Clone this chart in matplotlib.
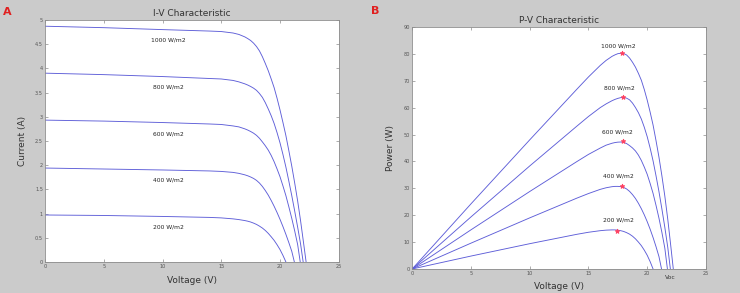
import matplotlib
matplotlib.use("Agg")
import matplotlib.pyplot as plt

# ---------------- data ----------------
irradiance_labels = ["1000 W/m2", "800 W/m2", "600 W/m2", "400 W/m2", "200 W/m2"]

v_1000 = [0, 5, 10, 14, 15, 16, 16.5, 17, 17.25, 17.5, 17.75, 18, 18.25, 18.5, 18.75, 19, 19.25,
          19.5, 19.75, 20, 20.25, 20.5, 20.75, 21, 21.25, 21.5, 21.75, 22, 22.22]
i_1000 = [4.87, 4.84, 4.80, 4.77, 4.76, 4.73, 4.70, 4.65, 4.615, 4.575, 4.52, 4.45, 4.36, 4.24, 4.10,
          3.95, 3.78, 3.60, 3.38, 3.14, 2.88, 2.61, 2.30, 1.98, 1.63, 1.26, 0.85, 0.40, 0]

v_800 = [0, 5, 10, 14, 15, 16, 16.5, 17, 17.25, 17.5, 17.75, 18, 18.25, 18.5, 18.75, 19, 19.25,
         19.5, 19.75, 20, 20.25, 20.5, 20.75, 21, 21.25, 21.5, 21.75, 21.97]
i_800 = [3.90, 3.87, 3.83, 3.79, 3.78, 3.75, 3.72, 3.68, 3.655, 3.625, 3.59, 3.545, 3.48, 3.40, 3.29,
         3.16, 3.02, 2.86, 2.67, 2.46, 2.22, 1.96, 1.67, 1.37, 1.05, 0.72, 0.37, 0]

v_600 = [0, 5, 10, 14, 15, 16, 16.5, 17, 17.25, 17.5, 17.75, 18, 18.25, 18.5, 18.75, 19, 19.25,
         19.5, 19.75, 20, 20.25, 20.5, 20.75, 21, 21.25, 21.5, 21.72]
i_600 = [2.93, 2.91, 2.88, 2.85, 2.84, 2.81, 2.79, 2.75, 2.725, 2.695, 2.66, 2.615, 2.555, 2.48, 2.40,
         2.31, 2.20, 2.07, 1.92, 1.76, 1.57, 1.37, 1.14, 0.90, 0.64, 0.36, 0]

v_400 = [0, 5, 10, 14, 15, 16, 16.5, 17, 17.25, 17.5, 17.75, 18, 18.25, 18.5, 18.75, 19, 19.25,
         19.5, 19.75, 20, 20.25, 20.5, 20.75, 21, 21.22]
i_400 = [1.94, 1.92, 1.90, 1.88, 1.87, 1.85, 1.83, 1.80, 1.78, 1.755, 1.725, 1.685, 1.63, 1.56, 1.475,
         1.38, 1.27, 1.15, 1.02, 0.88, 0.73, 0.57, 0.40, 0.22, 0]

v_200 = [0, 5, 10, 14, 15, 16, 16.5, 17, 17.25, 17.5, 17.75, 18, 18.25, 18.5, 18.75, 19, 19.25,
         19.5, 19.75, 20, 20.25, 20.5]
i_200 = [0.97, 0.96, 0.94, 0.92, 0.91, 0.89, 0.875, 0.855, 0.842, 0.825, 0.802, 0.775, 0.74, 0.70, 0.65,
         0.59, 0.52, 0.445, 0.355, 0.255, 0.135, 0]

# maximum power points
mpp_v = [17.88, 17.9, 17.9, 17.83, 17.46]
mpp_p = [80.2, 64.0, 47.7, 30.9, 14.1]

# label positions
iv_label_v = [10.5, 10.5, 10.5, 10.5, 10.5]
iv_label_i = [4.59, 3.62, 2.64, 1.69, 0.72]
pv_label_v = [17.5, 17.66, 17.46, 17.55, 17.55]
pv_label_p = [83.1, 67.3, 51.1, 34.6, 18.1]

v_ticks = [0, 5, 10, 15, 20, 25]
i_ticks = [0, 0.5, 1, 1.5, 2, 2.5, 3, 3.5, 4, 4.5, 5]
p_ticks = [0, 10, 20, 30, 40, 50, 60, 70, 80, 90]

curves_v = [v_1000, v_800, v_600, v_400, v_200]
curves_i = [i_1000, i_800, i_600, i_400, i_200]

# ---------------- figure ----------------
BG = "#cbcbcb"
LINE = "#5e5ed8"
fig = plt.figure(figsize=(7.4, 2.93), dpi=100, facecolor=BG)

axL = fig.add_axes([0.0608, 0.106, 0.397, 0.826])
axR = fig.add_axes([0.557, 0.082, 0.397, 0.826])

def style(ax):
    ax.set_facecolor("white")
    for s in ax.spines.values():
        s.set_color("#8c8c8c")
        s.set_linewidth(0.6)
    ax.tick_params(direction="in", length=2.5, width=0.5, colors="#8c8c8c",
                   labelsize=3.6, labelcolor="#555555", top=True, right=True, pad=1.5)

# I-V
for vv, ii in zip(curves_v, curves_i):
    axL.plot(vv, ii, color=LINE, lw=0.65)
for t, x, y in zip(irradiance_labels, iv_label_v, iv_label_i):
    axL.text(x, y, t, fontsize=4.3, ha="center", va="center", color="#222222")
axL.set_xlim(0, 25)
axL.set_ylim(0, 5)
axL.set_xticks(v_ticks)
axL.set_yticks(i_ticks)
axL.set_yticklabels([f"{t:g}" for t in i_ticks])
style(axL)
axL.set_title("I-V Characteristic", fontsize=6.5, color="#333333", pad=3)
axL.set_xlabel("Voltage (V)", fontsize=6.5, color="#333333", labelpad=5)
axL.set_ylabel("Current (A)", fontsize=6.5, color="#333333", labelpad=6)

# P-V
for vv, ii in zip(curves_v, curves_i):
    pp = [a * b for a, b in zip(vv, ii)]
    axR.plot(vv, pp, color=LINE, lw=0.65)
axR.plot(mpp_v, mpp_p, linestyle="none", marker="*", color="#ff4060",
         markersize=3.5, markeredgewidth=0.6)
for t, x, y in zip(irradiance_labels, pv_label_v, pv_label_p):
    axR.text(x, y, t, fontsize=4.3, ha="center", va="center", color="#222222")
axR.text(22.0, -2.4, "Voc", fontsize=4.3, ha="center", va="top", color="#333333")
axR.set_xlim(0, 25)
axR.set_ylim(0, 90)
axR.set_xticks(v_ticks)
axR.set_yticks(p_ticks)
style(axR)
axR.set_title("P-V Characteristic", fontsize=6.5, color="#333333", pad=3)
axR.set_xlabel("Voltage (V)", fontsize=6.5, color="#333333", labelpad=4)
axR.set_ylabel("Power (W)", fontsize=6.5, color="#333333", labelpad=6)

fig.text(0.004, 0.975, "A", color="#e02020", fontsize=8, ha="left", va="top", fontweight="bold")
fig.text(0.502, 0.978, "B", color="#e02020", fontsize=8, ha="left", va="top", fontweight="bold")

fig.savefig("out.png", dpi=100, facecolor=BG)
